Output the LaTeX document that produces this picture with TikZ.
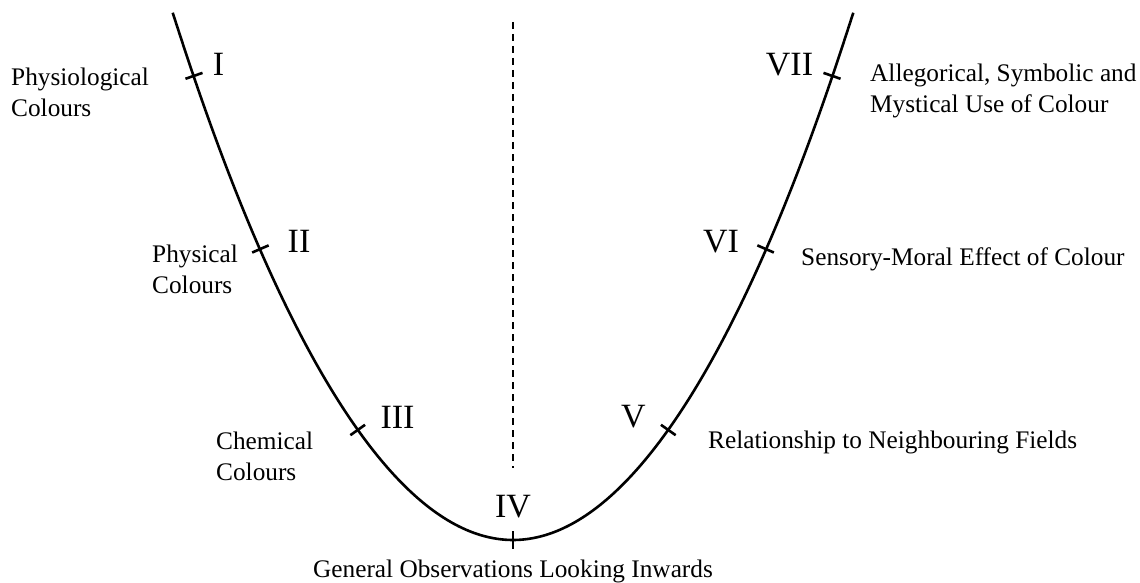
\documentclass[tikz,border=0pt]{standalone}
\usepackage{fontspec}
\setmainfont{Liberation Serif}
\begin{document}
\begin{tikzpicture}[x=1pt,y=-1pt,
  curve/.style={line width=2.6pt},
  tickmark/.style={line width=2.6pt},
  axis/.style={line width=1.1pt, dash pattern=on 7pt off 5pt},
  lbl/.style={font=\fontsize{25.3}{31}\selectfont, inner sep=0pt, align=left, anchor=base west},
  num/.style={font=\fontsize{34}{40}\selectfont, inner sep=0pt, anchor=base}]
\useasboundingbox (0,0) rectangle (1140,583);
% dashed axis
\coordinate (top) at (513,22);
\coordinate (bot) at (513,468);
\draw[axis] (top) -- (bot);
% curve
\coordinate (L) at (172.7,12.7);
\coordinate (B) at (513,540);
\coordinate (R) at (853.3,12.7);
\draw[curve] (L) parabola bend (B) (R);
% tick marks
\foreach \n/\dx in {I/-319, II/-252.6, III/-155.3, IV/0, V/155.3, VI/252.6, VII/319}{
  \pgfmathsetmacro\py{540-45.614*(\dx/100)*(\dx/100)}
  \pgfmathsetmacro\s{-0.0091228*\dx}
  \pgfmathsetmacro\nn{sqrt(1+\s*\s)}
  \pgfmathsetmacro\ux{9*\s/\nn}
  \pgfmathsetmacro\uy{-9/\nn}
  \coordinate (t\n) at (513+\dx,\py);
  \coordinate (t\n a) at (513+\dx+\ux,\py+\uy);
  \coordinate (t\n b) at (513+\dx-\ux,\py-\uy);
  \draw[tickmark] (t\n a) -- (t\n b);
}
% numerals
\node[num] (nI) at (218.5,76) {I};
\node[num] (nII) at (299,252) {II};
\node[num] (nIII) at (397.5,428) {III};
\node[num] (nIV) at (513,517) {IV};
\node[num] (nV) at (633.5,427) {V};
\node[num] (nVI) at (721,252) {VI};
\node[num] (nVII) at (789.5,76) {VII};
% labels (base anchor of a two-line node is the baseline of its last line)
\node[lbl] (lI) at (11,117) {Physiological\\Colours};
\node[lbl] (lII) at (152,293) {Physical\\Colours};
\node[lbl] (lIII) at (216,480) {Chemical\\Colours};
\node[lbl, anchor=base] (lIV) at (513,577) {General Observations Looking Inwards};
\node[lbl] (lV) at (708,448) {Relationship to Neighbouring Fields};
\node[lbl] (lVI) at (801,265) {Sensory-Moral Effect of Colour};
\node[lbl] (lVII) at (870,113) {Allegorical, Symbolic and\\Mystical Use of Colour};
\end{tikzpicture}
\end{document}
